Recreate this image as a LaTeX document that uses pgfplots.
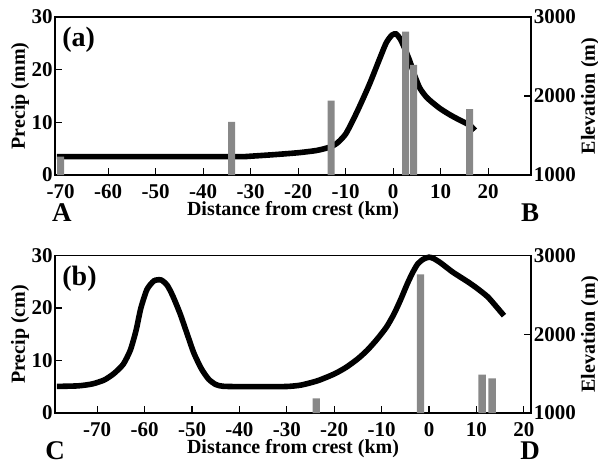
\documentclass[border=0pt]{standalone}
\usepackage{fontspec}
\setmainfont{Liberation Serif}
\usepackage{pgfplots}
\pgfplotsset{compat=1.18}
\definecolor{bargray}{RGB}{136,136,136}

\pgfplotsset{
  panel/.style={scale only axis,width=238pt,height=79pt,clip=false,
    tick align=inside,major tick length=3.5pt,
    every tick label/.append style={font=\bfseries\fontsize{10.5}{12}\selectfont},
    label style={font=\bfseries\fontsize{10}{12}\selectfont},
    tick style={black,line width=0.6pt},axis line style={line width=0.6pt}},
  elev/.style={panel,ymin=1000,ymax=3000,ytick={1000,2000,3000},yticklabels={1000,2000,3000},
    axis y line*=right,axis x line=none,
    yticklabel style={inner sep=0pt,xshift=1.2pt},
    ylabel={Elevation (m)},ylabel style={at={(axis description cs:1.124,0.5)},anchor=center}},
  precip/.style={panel,ymin=0,ymax=30,ytick={0,10,20,30},yticklabels={0,10,20,30},
    xtick={-70,-60,-50,-40,-30,-20,-10,0,10,20},
    xticklabels={-70,-60,-50,-40,-30,-20,-10,0,10,20},
    xtick pos=bottom,ytick pos=left,
    yticklabel style={inner sep=0pt,xshift=-1pt},
    xticklabel style={inner sep=0pt,yshift=-4.5pt},
    xlabel={Distance from crest (km)},
    xlabel style={at={(axis description cs:0.5,-0.228)},anchor=center},
    ylabel style={at={(axis description cs:-0.0735,0.5)},anchor=center}},
}

\begin{document}
\begin{tikzpicture}
\useasboundingbox (-27.5pt,-145.5pt) rectangle (271.5pt,87.5pt);
% ---- panel (a)
\begin{axis}[elev,xmin=-71.2,xmax=29]
\addplot[black,line width=2.8pt,smooth,tension=0.4] coordinates {
(-70.8,1232) (-60,1232) (-50,1232) (-40,1232) (-32,1232) (-30,1238) (-25,1258) (-20,1282)
(-16,1312) (-13,1360) (-11.5,1420) (-10,1520) (-8.5,1690) (-7,1880) (-5,2150) (-3,2450)
(-1.5,2670) (-0.3,2770) (0.6,2785) (1.5,2720) (2.5,2590) (3.5,2440) (4.5,2260) (5.6,2100)
(7,1985) (8.5,1905) (10,1835) (12,1760) (14,1695) (15.5,1650) (16.5,1610) (17.2,1565)};
\end{axis}
\begin{axis}[precip,xmin=-71.2,xmax=29,ylabel={Precip (mm)}]
\addplot[ybar,bar width=3.5pt,fill=bargray,draw=none] coordinates {
(-70,3.5) (-34,10.1) (-13.1,14.1) (2.6,27.2) (4.3,20.9) (16.1,12.5)};
\node[anchor=north west,inner sep=0pt,font=\bfseries\fontsize{14}{14}\selectfont] at (rel axis cs:0,1) [xshift=3.5pt,yshift=-5pt] {(a)};
\node[inner sep=0pt,font=\bfseries\fontsize{13.5}{14}\selectfont] at (rel axis cs:0.0147,-0.24) {A};
\node[inner sep=0pt,font=\bfseries\fontsize{13.5}{14}\selectfont] at (rel axis cs:0.998,-0.24) {B};
\end{axis}
% ---- panel (b)
\begin{scope}[yshift=-119pt]
\begin{axis}[elev,xmin=-78.9,xmax=21.5,height=78.7pt]
\addplot[black,line width=2.8pt,smooth,tension=0.4] coordinates {
(-78.5,1338) (-74,1345) (-71,1370) (-68.5,1420) (-66.5,1500) (-64.5,1620) (-63,1800)
(-61.8,2050) (-60.8,2330) (-59.5,2570) (-58,2680) (-56.5,2690) (-55.2,2620) (-54,2480)
(-52.5,2260) (-51,2000) (-49.6,1760) (-48,1560) (-46.5,1430) (-45,1362) (-43.5,1340)
(-40,1335) (-35,1335) (-30,1337) (-27,1355) (-23.5,1410) (-20,1496) (-17.5,1580)
(-15,1690) (-13,1800) (-11,1935) (-9,2090) (-7.4,2258) (-6,2440) (-4.6,2640) (-3.5,2780)
(-2.4,2894) (-1.2,2955) (0,2980) (1,2962) (2.5,2905) (5,2790) (8.1,2670) (10,2590)
(12.3,2480) (14,2365) (15.8,2237)};
\end{axis}
\begin{axis}[precip,xmin=-78.9,xmax=21.5,height=78.7pt,ylabel={Precip (cm)}]
\addplot[ybar,bar width=3.7pt,fill=bargray,draw=none] coordinates {
(-23.8,2.8) (-1.8,26.4) (11.2,7.3) (13.3,6.6)};
\node[anchor=north west,inner sep=0pt,font=\bfseries\fontsize{14}{14}\selectfont] at (rel axis cs:0,1) [xshift=3.5pt,yshift=-5pt] {(b)};
\node[inner sep=0pt,font=\bfseries\fontsize{13.5}{14}\selectfont] at (rel axis cs:0.0,-0.242) {C};
\node[inner sep=0pt,font=\bfseries\fontsize{13.5}{14}\selectfont] at (rel axis cs:0.998,-0.242) {D};
\end{axis}
\end{scope}
\end{tikzpicture}
\end{document}
